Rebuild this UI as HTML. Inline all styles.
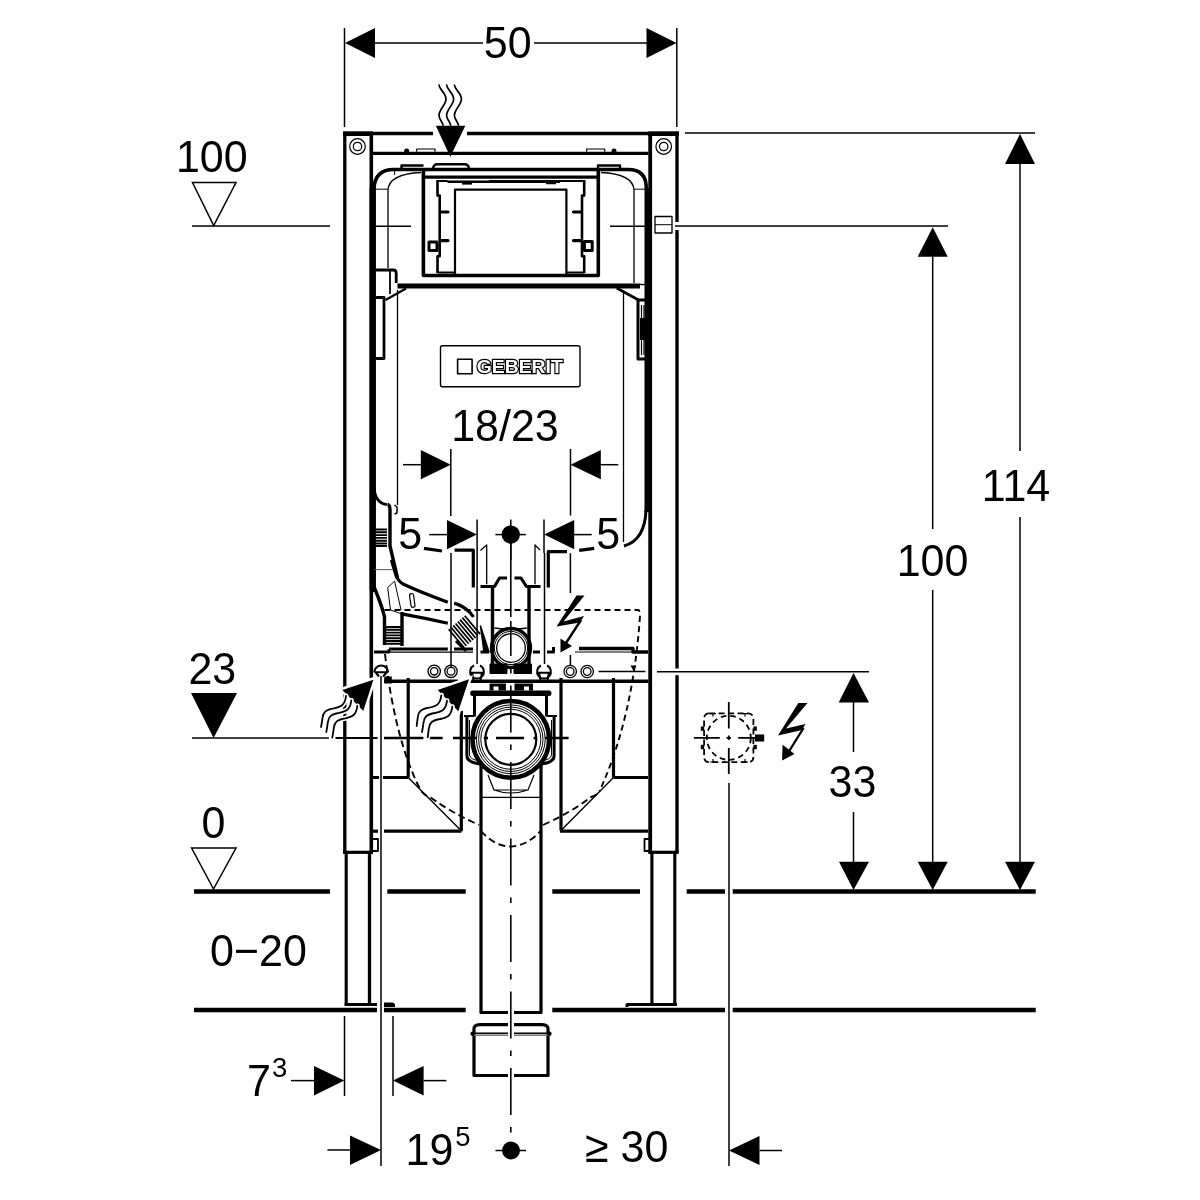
<!DOCTYPE html>
<html><head><meta charset="utf-8"><style>
html,body{margin:0;padding:0;background:#fff;}
svg{display:block;will-change:transform;}
text{font-family:"Liberation Sans",sans-serif;fill:#000;}
</style></head><body>
<svg width="1200" height="1200" viewBox="0 0 1200 1200">
<rect width="1200" height="1200" fill="#fff"/>

<g id="frame" stroke="#000" fill="none" stroke-linejoin="round">
  <!-- top bar -->
  <path d="M343.2,133.5 H433 M467,133.5 H678.7" stroke-width="3.6"/>
  <rect x="343.2" y="131.4" width="29.8" height="4.6" fill="#000" stroke="none"/>
  <rect x="648.3" y="131.4" width="30.4" height="4.6" fill="#000" stroke="none"/>
  <!-- left post -->
  <line x1="344.8" y1="131.7" x2="344.8" y2="853.5" stroke-width="3.3"/>
  <line x1="371.3" y1="133.5" x2="371.3" y2="853.5" stroke-width="3.6"/>
  <line x1="343.2" y1="852.3" x2="373" y2="852.3" stroke-width="3.2"/>
  <line x1="346.2" y1="852" x2="346.2" y2="1004" stroke-width="3.1"/>
  <line x1="369.5" y1="852" x2="369.5" y2="1004" stroke-width="3.3"/>
  <path d="M344.5,1004.5 H377" stroke-width="3"/>
  <path d="M384,1002.5 H392 Q395,1002.5 395,1005.5 V1007 H384 Z" fill="#000" stroke="none"/>
  <!-- right post -->
  <line x1="677" y1="131.7" x2="677" y2="222" stroke-width="3.4"/>
  <line x1="677" y1="230" x2="677" y2="668.5" stroke-width="3.4"/>
  <line x1="677" y1="675.2" x2="677" y2="853.5" stroke-width="3.4"/>
  <line x1="650.2" y1="133.5" x2="650.2" y2="853.5" stroke-width="3.8"/>
  <line x1="648.5" y1="852.3" x2="678.5" y2="852.3" stroke-width="3.2"/>
  <line x1="651.9" y1="852" x2="651.9" y2="1004" stroke-width="3.1"/>
  <line x1="674.8" y1="852" x2="674.8" y2="1004" stroke-width="3.1"/>
  <path d="M627,1007 V1004.5 H677" stroke-width="3"/>
  <!-- rail -->
  <line x1="373" y1="153.3" x2="648.5" y2="153.3" stroke-width="3.3"/>
  <!-- circles -->
  <g stroke-width="1.2">
    <circle cx="357.5" cy="146.5" r="7.8"/><circle cx="357.5" cy="146.5" r="4.2"/>
    <circle cx="663.7" cy="146.5" r="7.8"/><circle cx="663.7" cy="146.5" r="4.2"/>
  </g>
  <!-- small rail items -->
  <path d="M416.7,151.7 V149 H435 V151.7" stroke-width="1.2"/>
  <path d="M586.7,151.7 V149 H604.7 V151.7" stroke-width="1.2"/>
  <circle cx="406.7" cy="151" r="2.5" fill="#000" stroke="none"/>
  <circle cx="614" cy="151" r="2.5" fill="#000" stroke="none"/>
  <!-- bottom cross bars of posts -->
  <line x1="384" y1="831.2" x2="461.5" y2="831.2" stroke-width="3.2"/>
  <line x1="560" y1="831.2" x2="648.2" y2="831.2" stroke-width="3.2"/>
  <line x1="372" y1="831.2" x2="378" y2="831.2" stroke-width="3.2"/>
  <path d="M373,839 H378 V851 H373" stroke-width="1.8"/>
  <path d="M650,839 H644.5 V851 H650" stroke-width="1.8"/>
</g>

<g id="cistern" stroke="#000" fill="none" stroke-linejoin="round" stroke-linecap="butt">
  <!-- outer cistern wall -->
  <path d="M374,592 V189 Q374.5,169.5 394,169.5 H628 Q646.3,169.5 646.3,188 V512" stroke-width="3.6"/>
  <rect x="645" y="188" width="6.5" height="324" fill="#000" stroke="none"/>
  <rect x="369.6" y="188" width="6.2" height="402" fill="#000" stroke="none"/>
  <path d="M374.5,490 Q376,503.5 387,504.5" stroke-width="2.6"/>
  <path d="M646,510 Q645,540 624,546" stroke-width="3"/>
  <!-- inner thin contour -->
  <path d="M421,172.5 Q389,174 388,190 V268" stroke-width="1.3"/>
  <path d="M376,189.2 H388" stroke-width="1"/>
  <path d="M394.6,169 V175" stroke-width="1"/>
  <path d="M601,172.5 Q633,174 634,190 V283" stroke-width="1.3"/>
  <path d="M634,189.2 H645" stroke-width="1"/>
  <path d="M397.5,290 V505" stroke-width="1.3"/>
  <path d="M623.5,290 V542" stroke-width="1.3"/>
  <!-- top tabs -->
  <path d="M401.5,169 V165.5 H423.5" stroke-width="2.4"/>
  <path d="M433,168 Q434,164.3 437,164.3 H465 Q468,164.3 469,168" stroke-width="2.4"/>
  <path d="M598,169 V165.5 H620 V169" stroke-width="2.4"/>
  <!-- flush box -->
  <path d="M423.4,168 V275.5 H598.3 V168" stroke-width="3.6"/>
  <line x1="423.4" y1="177.2" x2="598.3" y2="177.2" stroke-width="3.3"/>
  <!-- notched frames -->
  <path d="M437.5,180 V195.6 H439.7 V256.3 H437.5 V273" stroke-width="2.6"/>
  <path d="M584.2,180 V195.6 H582 V256.3 H584.2 V273" stroke-width="2.6"/>
  <path d="M441,212 H448 M441,240.6 H448" stroke-width="3.2" stroke-linecap="round"/>
  <path d="M573.5,212 H580.7 M573.5,240.6 H580.7" stroke-width="3.2" stroke-linecap="round"/>
  <rect x="429" y="242" width="8" height="8.5" stroke-width="3"/>
  <rect x="584.4" y="241.6" width="7.8" height="8.8" stroke-width="3"/>
  <path d="M437.5,181 H584.2" stroke-width="2"/>
  <path d="M437.5,272.5 H455 M566.4,272.5 H584.2" stroke-width="2"/>
  <!-- inner white rect -->
  <path d="M455,275 V189.6 H566.4 V275" stroke-width="2.2"/>
  <path d="M447.5,180.5 H489" stroke-width="1" stroke="#777"/>
  <path d="M447.5,182.5 H560" stroke-width="1.2"/>
  <path d="M462,183.5 H472" stroke-width="2.2"/>
  <path d="M533,181 H575 M546,183.5 H556" stroke-width="1.3"/>
  <!-- level marks inside cistern at y=226 -->
  <path d="M376,226.2 H411" stroke-width="1.5"/>
  <path d="M610,226.2 H645" stroke-width="1.5"/>
  <!-- small box on right post -->
  <rect x="655" y="216.5" width="17" height="16.5" stroke-width="1.3"/>
  <path d="M655,224.7 H672" stroke-width="1"/>
  <!-- brackets below flush box -->
  <path d="M376,270 H393 Q396.2,270 396.2,273 V283" stroke-width="2.8"/>
  <path d="M390,271 V294" stroke-width="1.8"/>
  <path d="M397.5,286 H640" stroke-width="5"/>
  <path d="M639,284.5 H645" stroke-width="1.3"/>
  <path d="M385.5,300 L406,288.5" stroke-width="2.2"/>
  <path d="M376,297.5 H384 V358.5 H376" stroke-width="2.8"/>
  <path d="M616.7,288 L638.5,300" stroke-width="2.6"/>
  <path d="M645.5,300 H638 V359 H645.5" stroke-width="3"/>
  <path d="M641.5,305 V355 M644,305 V355" stroke-width="1.2"/>
  <rect x="640" y="318" width="6" height="22" fill="#000" stroke="none"/>
  <!-- GEBERIT label -->
  <rect x="440.5" y="345.8" width="139.5" height="40.9" rx="2" stroke-width="1.4"/>
  <rect x="457.6" y="359.2" width="14.5" height="14.6" stroke-width="1.6"/>
</g>
<text transform="matrix(1,0,0,1.035,0,-13.05)" x="476.8" y="372.6" font-size="18.6" font-weight="bold" textLength="86" lengthAdjust="spacingAndGlyphs" style="font-family:'Liberation Sans',sans-serif;fill:#fff;stroke:#000;stroke-width:2.3px;paint-order:stroke">GEBERIT</text>

<g id="waves" stroke="#000" stroke-width="1.7" fill="none" stroke-linecap="round">
  <path id="wv" d="M439,85 C439.5,90 446,93 446,99 C446,105 439,109 439,115.5 C439,119 442,121 443,125"/>
  <path d="M446.6,85 C447.1,90 453.6,93 453.6,99 C453.6,105 446.6,109 446.6,115.5 C446.6,119 449.6,121 450.6,125"/>
  <path d="M454.4,85 C454.9,90 461.4,93 461.4,99 C461.4,105 454.4,109 454.4,115.5 C454.4,119 457.4,121 458.4,125"/>
</g>

<g id="lower" stroke="#000" fill="none" stroke-linejoin="round">
  <!-- cistern lower-left wall + flush pipe -->
  <path d="M387.5,504.5 Q390,505 390,510 V546 L397.5,578" stroke-width="3.4"/>
  <path d="M394.5,505 L397,507 V513 L394.5,514" stroke-width="1.5"/>
  <path d="M391.4,560 L395.5,573.8 Q397,580 403,584 Q420,592 447.8,602.2" stroke-width="3.2"/>
  <path d="M454.2,603.1 Q467,607 473.5,617" stroke-width="3.2"/>
  <path d="M402.9,614.1 Q425,618 447.8,623.3" stroke-width="3.2"/>
  <path d="M374.5,588 Q382,606 384.5,617 V645" stroke-width="3.4"/>
  <path d="M402,612 V646" stroke-width="3.4"/>
  <path d="M374,569.6 H392.8" stroke-width="1" stroke="#555"/>
  <path d="M387.7,587.5 L394.6,581.1 M387.7,587.5 L390.5,610 L402,614 M394.6,581.1 L401,610" stroke-width="1"/>
  <rect x="410.2" y="593.5" width="4" height="14" rx="2" stroke-width="1.2" transform="rotate(-8 412 600)"/>
  <!-- threads left -->
  <path d="M385,627 H402 M385,629.8 H402 M385,632.6 H402 M385,635.4 H402 M385,638.2 H402 M385,641 H402 M385,643.8 H402" stroke-width="1.9"/>
  <path d="M376,529.5 H387 M376,532.3 H387 M376,535.1 H387 M376,537.9 H387 M376,540.7 H387 M376,543.5 H387 M376,546 H387" stroke-width="1.9"/>
  <!-- threads right angled -->
  <g transform="rotate(-40 464 632)">
    <path d="M454,620 V644 M457,620 V644 M460,620 V644 M463,620 V644 M466,620 V644 M469,620 V644 M472,620 V644 M475,620 V644" stroke-width="1.7"/>
  </g>
  <path d="M456,641 L466,651" stroke-width="3"/>
  <!-- rail 1 -->
  <path d="M389,649 H447.8 M454,649 H473" stroke-width="3"/>
  <path d="M389,652.2 H473" stroke-width="1.2"/>
  <path d="M374,652 H389 V649" stroke-width="2.8"/>
  <path d="M480.5,652 H489 M533,652 H540 M547,652 H553.5 V647" stroke-width="3"/>
  <path d="M579,648.5 H633 V652 H648" stroke-width="3.4"/>
  <path d="M575,652 H633" stroke-width="1.2"/>
  <!-- wedge -->
  <path d="M480.5,626 L489,652 L484,652 Z" fill="#000" stroke-width="1.5"/>
  <!-- dashed bowl top line -->
  <path d="M384.5,610 H638 Q640,610 640,616 Q633,718 600,790" stroke-width="1.9" stroke-dasharray="6,4"/>
  <!-- dashed thick curve (5 dims) -->
  <path d="M424,548.3 L442,551" stroke-width="3.2"/>
  <path d="M454.6,550.2 H473.3 V587.5" stroke-width="3.2"/>
  <path d="M567,551.7 H548.3 V587.5" stroke-width="3.2"/>
  <path d="M579.2,550.4 L594.2,548.3" stroke-width="3.2"/>
  <!-- thin "1" lines -->
  <path d="M480.4,550.4 L486.7,545 V584.2" stroke-width="1.3"/>
  <path d="M540,550 L535,545 V584.2" stroke-width="1.3"/>
  <!-- flush connector -->
  <path d="M480.5,586.5 H494.5 L499.5,578 H507 M514.5,578 H521 L526.5,586.5 H540.5" stroke-width="3.2"/>
  <path d="M492.5,586.5 V665 M529,586.5 V665" stroke-width="3.4"/>
  <path d="M490,664 H507 V673.5 H490 Z M514,664 H531.5 V673.5 H514 Z" fill="#000" stroke-width="1"/>
  <!-- ring at 648 -->
  <circle cx="511" cy="648" r="19.5" stroke-width="3.4"/>
  <circle cx="511" cy="648" r="16.6" stroke-width="1"/>
  <circle cx="511" cy="648" r="14.3" stroke-width="1.3"/>
  <path d="M494.5,628 Q500,629 507,629 M514.5,629 Q521,629 527,628" stroke-width="1.5"/>
  <!-- lightning -->
  <polygon points="576.5,595.5 584.5,595.5 563.5,621.5 584,616 580,622.5 556.5,626.5" fill="#000" stroke="none"/>
  <path d="M581,620 L566,643" stroke-width="2.4"/>
  <polygon points="560.5,638.5 572,646 560.5,652.5" fill="#000" stroke="none"/>
  <!-- circles row -->
  <g stroke-width="1.3">
    <circle cx="434.2" cy="671.3" r="6.2"/><circle cx="434.2" cy="671.3" r="3.7"/>
    <circle cx="451" cy="671.3" r="6.2"/><circle cx="451" cy="671.3" r="3.9"/>
    <circle cx="570.2" cy="671.5" r="6.2"/><circle cx="570.2" cy="671.5" r="3.8"/>
    <circle cx="587.2" cy="671.5" r="6.2"/><circle cx="587.2" cy="671.5" r="3.8"/>
  </g>
  <path d="M451,553 V667.4" stroke-width="1.5"/>
  <path d="M570.4,553.3 V593 M570.4,655 V665.5" stroke-width="1.5"/>
  <path d="M477.1,553 V664" stroke-width="1.5"/>
  <path d="M544.5,553 V664" stroke-width="1.5"/>
  <!-- domes -->
  <g stroke-width="2">
    <path d="M541,665.5 A6.9,6.9 0 1 0 547,665.5"/>
    <path d="M537.5,672.8 H550.5 M539,673 L540.5,680 M549,673 L547.5,680"/>
    <path d="M474,665.5 A6.9,6.9 0 1 0 480,665.5"/>
    <path d="M470.5,672.8 H483.5 M472,673 L473.5,680 M482,673 L480.5,680"/>
    <path d="M374.3,672.3 A6.9,6.9 0 0 1 388.1,672.3"/>
    <path d="M374.3,672.3 H388.1 M376,673 L379,676.5 M386.3,673 L383,676.5"/>
  </g>
  <rect x="384.3" y="676.5" width="7.5" height="7" fill="#000" stroke="none"/>
  <path d="M598.5,671.5 H645.5" stroke-width="1.5"/>
  <polygon points="630.5,665.5 636.5,665.5 633.5,671" fill="#000" stroke="none"/>
  <!-- rail 2 -->
  <path d="M384,681.2 H458 M466,681.2 H648.5" stroke-width="3.4"/>
  <path d="M408.2,678 V777.5 M561,678 V830.5 M613.5,678 V777.5" stroke-width="3.2"/>
  <!-- outlet housing -->
  <path d="M489.6,683.5 H505.9 V690.5 H498.5 V686.5 H493.5 V690.5 H489.6 Z M514.5,683.5 H533 V690.5 H529 V686.5 H524 V690.5 H514.5 Z" fill="#000" stroke="none"/>
  <rect x="470.2" y="690.5" width="81.2" height="5.5" rx="2.5" fill="#000" stroke="none"/>
  <path d="M474.5,696 V716.6 M546.5,696 V716.6" stroke-width="3"/>
  <path d="M466.9,716 V756 Q467,762.5 481,764" stroke-width="3"/>
  <path d="M554.1,716 V756 Q554,762.5 541,764" stroke-width="3"/>
  <path d="M469.5,720 V755 Q470,759.5 480,761 M551.5,720 V755 Q551,759.5 541,761" stroke-width="1"/>
  <path d="M464,716 H474.5 M546.5,716 H557" stroke-width="2"/>
  <circle cx="510.8" cy="739.3" r="38.3" stroke-width="4.6"/>
  <circle cx="510.8" cy="739.3" r="34.4" stroke-width="1"/>
  <circle cx="510.8" cy="739.3" r="32.2" stroke-width="1"/>
  <circle cx="510.8" cy="739.3" r="30" stroke-width="1"/>
  <circle cx="510.8" cy="739.3" r="25.5" stroke-width="2.2"/>
  <!-- outlet pipe -->
  <path d="M481,764 V1012.5 H541 V764" stroke-width="3.2"/>
  <path d="M481,797.3 H541" stroke-width="1.3"/>
  <path d="M488,775 L494,790 H528 L534,775 M494,790 Q511,796 528,790" stroke-width="1.2"/>
  <!-- pipe cap -->
  <path d="M474,1075.5 V1030 Q473.4,1024.8 480,1024.6 H542 Q548.6,1024.8 548,1030 V1075.5 Z" stroke-width="3.2"/>
  <path d="M472,1033.2 H550" stroke-width="1.4"/>
  <path d="M473,1035.3 H549" stroke-width="1.4" stroke="#777"/>
  <circle cx="472.6" cy="1033.8" r="2.2" fill="#000" stroke="none"/>
  <circle cx="549.4" cy="1033.8" r="2.2" fill="#000" stroke="none"/>
  <!-- lower brackets -->
  <path d="M373,777.5 H379 M383,777.5 H408.2 M461.3,711 V831.2" stroke-width="3.2"/>
  <path d="M408.2,777.5 L461,830.6" stroke-width="1.4"/>
  <path d="M648,777.5 H613.5" stroke-width="3.2"/>
  <path d="M613.5,777.5 L561,830.6" stroke-width="1.4"/>
  <!-- dashed bowl -->
  <path d="M385,654 Q395,740 420,789 Q423,795 430,797 Q452,813 479,825" stroke-width="1.9" stroke-dasharray="7,4"/>
  <path d="M481,831 Q494,846 510.5,846.5 Q527,846 540.5,831" stroke-width="1.9" stroke-dasharray="7,4"/>
  <path d="M543,825 Q570,813 591,797 Q598,795 600,790" stroke-width="1.9" stroke-dasharray="7,4"/>
</g>
<path d="M511,1009.5 V1015.5 M511,1021.5 V1037 M511,1072.5 V1078.5" stroke="#fff" stroke-width="6"/>
<g id="centerlines" stroke="#000" fill="none">
  <path d="M510.8,543 V617" stroke-width="1.6"/>
  <path d="M510.8,621 V1145" stroke-width="1.6" stroke-dasharray="47,12,5.5,12" stroke-dashoffset="12"/>
  <path d="M384,738 H423.4 M429.5,738 H442.6 M453,738 H476.8 M483.8,738 H488 M496,738 H524 M533.6,738 H537 M545,738 H568.6" stroke-width="2.3"/>
</g>

<g id="socket" stroke="#000" fill="none">
  <rect x="704.1" y="713.4" width="49.3" height="48.8" rx="5" stroke-width="1.8" stroke-dasharray="6,3.5"/>
  <circle cx="728.8" cy="737.8" r="22" stroke-width="1.8" stroke-dasharray="5.5,4"/>
  <path d="M693.8,737.8 H719.8 M738.2,737.8 H755 M728.8,702 V728.6 M728.8,748 V774 M726.5,737.8 H731 M728.8,735.6 V740" stroke-width="1.8"/>
  <path d="M710,713.6 h6 M713,713.6 v3 M742,713.6 h6 M745,713.6 v3 M710,762 h6 M713,762 v-3 M742,762 h6 M745,762 v-3" stroke-width="1.2"/>
  <g fill="#000" stroke="none">
    <rect x="700.8" y="726.4" width="3.4" height="4.4"/>
    <rect x="700.8" y="744.8" width="3.4" height="4.4"/>
    <rect x="753.4" y="726.4" width="3.4" height="4.4"/>
    <rect x="753.4" y="744.8" width="3.4" height="4.4"/>
    <rect x="755" y="734.5" width="9.2" height="7"/>
    <polygon points="798.3,703 807.5,703 786,728.5 805.5,724 802,730 778,735.5"/>
    <polygon points="782.6,744.8 794.5,754 782.1,760.5"/>
  </g>
  <path d="M803.5,728 L788,753" stroke-width="2.3"/>
</g>
<g id="dims" stroke="#000" stroke-width="1.5" fill="none">
  <!-- 50 -->
  <line x1="344.5" y1="28" x2="344.5" y2="127"/>
  <line x1="676.8" y1="28" x2="676.8" y2="127"/>
  <line x1="375" y1="43" x2="483" y2="43"/>
  <line x1="534" y1="43" x2="647" y2="43"/>
  <!-- 100 left level -->
  <polygon points="192.5,182.5 236,182.5 213.7,225.5"/>
  <line x1="192" y1="226" x2="330" y2="226"/>
  <!-- 114 -->
  <line x1="685" y1="133" x2="1035" y2="133"/>
  <line x1="1020" y1="164" x2="1020" y2="451"/>
  <line x1="1020" y1="517" x2="1020" y2="862"/>
  <!-- 100 right -->
  <line x1="675" y1="226" x2="948" y2="226"/>
  <line x1="932.7" y1="256" x2="932.7" y2="529"/>
  <line x1="932.7" y1="590" x2="932.7" y2="862"/>
  <!-- 33 -->
  <line x1="657" y1="671.8" x2="869" y2="671.8"/>
  <line x1="853.5" y1="702" x2="853.5" y2="752"/>
  <line x1="853.5" y1="812" x2="853.5" y2="862"/>
  <!-- 23 level -->
  <line x1="192" y1="738" x2="329" y2="738"/>
  <line x1="335.5" y1="738" x2="377.5" y2="738" stroke-width="2"/>
  <!-- 0 level -->
  <polygon points="191.6,848 236,848 213.5,889"/>
  <!-- 7^3 -->
  <line x1="344.5" y1="1016" x2="344.5" y2="1096"/>
  <line x1="393" y1="1016" x2="393" y2="1096"/>
  <line x1="291" y1="1080.6" x2="314" y2="1080.6"/>
  <line x1="423.6" y1="1080.6" x2="446.4" y2="1080.6"/>
  <!-- 19^5 -->
  <line x1="381" y1="676" x2="381" y2="1166"/>
  <line x1="327.4" y1="1150" x2="350" y2="1150"/>
  <!-- >=30 -->
  <line x1="729" y1="783" x2="729" y2="1166"/>
  <line x1="759.5" y1="1150.5" x2="782" y2="1150.5"/>
</g>
<g id="arrows" fill="#000" stroke="none">
  <polygon points="345,43 375,28 375,58"/>
  <polygon points="676.5,43 646.5,28 646.5,58"/>
  <polygon points="450.3,156.7 435.8,125.8 465.3,125.8"/>
  <polygon points="1020,134 1005,164 1035,164"/>
  <polygon points="1020,890 1005,861.7 1035,861.7"/>
  <polygon points="932.7,227.3 917.7,256.7 947.7,256.7"/>
  <polygon points="932.7,890 917.7,861.7 947.7,861.7"/>
  <polygon points="853.5,673 838.7,702.5 869,702.5"/>
  <polygon points="853.5,890 839,861.7 869,861.7"/>
  <polygon points="191,693 237,693 213.6,738"/>
  <polygon points="344.3,1080.6 314,1066 314,1095.6"/>
  <polygon points="393,1080.6 423.6,1066 423.6,1095.6"/>
  <polygon points="381,1150 350,1135.6 350,1165"/>
  <polygon points="729,1150.5 759.5,1136 759.5,1165"/>
  <circle cx="511" cy="1150.5" r="9"/>
</g>
<g id="floors" stroke="#000" stroke-width="4.5" fill="none">
  <line x1="194" y1="891.6" x2="330" y2="891.6"/>
  <line x1="387.3" y1="891.6" x2="465.7" y2="891.6"/>
  <line x1="552.3" y1="891.6" x2="640" y2="891.6"/>
  <line x1="686.7" y1="891.6" x2="725" y2="891.6"/>
  <line x1="732.7" y1="891.6" x2="1035.7" y2="891.6"/>
  <line x1="194" y1="1010" x2="377" y2="1010"/>
  <line x1="384" y1="1010" x2="465.7" y2="1010"/>
  <line x1="552.3" y1="1010" x2="725" y2="1010"/>
  <line x1="732.7" y1="1010" x2="1035.7" y2="1010"/>
</g>

<g id="dims2" stroke="#000" stroke-width="1.5" fill="none">
  <line x1="450.8" y1="449" x2="450.8" y2="516"/>
  <line x1="570.5" y1="449" x2="570.5" y2="515.5"/>
  <line x1="403" y1="464.7" x2="421" y2="464.7"/>
  <line x1="600.5" y1="464.7" x2="618.3" y2="464.7"/>
  <line x1="477.1" y1="519.6" x2="477.1" y2="553"/>
  <line x1="544" y1="519.6" x2="544" y2="553"/>
  <line x1="429.2" y1="534.6" x2="447.5" y2="534.6"/>
  <line x1="574" y1="534.6" x2="591.7" y2="534.6"/>
  <line x1="495.4" y1="534.6" x2="525.8" y2="534.6"/>
  <line x1="510.8" y1="519.6" x2="510.8" y2="560"/>
  <line x1="495.5" y1="1150.5" x2="526" y2="1150.5"/>
</g>
<g fill="#000" stroke="none">
  <polygon points="450.8,464.7 420.8,450 420.8,479.3"/>
  <polygon points="570.5,464.7 600.8,450 600.8,479.3"/>
  <polygon points="476.8,534.6 447,520 447,549.2"/>
  <polygon points="544.2,534.6 574.2,520 574.2,549.2"/>
  <circle cx="510.8" cy="534.6" r="9.2"/>
  <polygon points="342.3,689.9 373.4,679.75 363.3,710.9" stroke="#fff" stroke-width="5" paint-order="stroke"/>
  <polygon points="437.7,690 469,679.3 458.3,711.3" stroke="#fff" stroke-width="5" paint-order="stroke"/>
</g>
<g stroke="#fff" stroke-width="5" fill="none" stroke-linecap="round">
  <path d="M346,696 C345,705 341,707 334,708.3 C326,709.5 323,712 322.5,718 C322,722 321.5,725 321,727"/>
  <path d="M351.3,700.5 C350.3,709.5 346.3,711.5 339.3,712.8 C331.3,714 328.3,716.5 327.8,722.5 C327.3,726.5 326.8,729.5 326.3,732"/>
  <path d="M357.3,706 C356.3,715 352.3,717 345.3,718.3 C337.3,719.5 334.3,722 333.8,728 C333.3,732 332.8,735 332.3,737.5"/>
  <path d="M441.3,695.3 C440.3,704.3 436.3,706.3 429.3,707.6 C421.3,708.8 418.3,711.3 417.8,717.3 C417.3,721.3 416.8,724.3 416.7,726"/>
  <path d="M447,700.7 C446,709.7 442,711.7 435,713 C427,714.2 424,716.7 423.5,722.7 C423,726.7 422.5,729.7 422,732"/>
  <path d="M452.3,706.7 C451.3,715.7 447.3,717.7 440.3,719 C432.3,720.2 429.3,722.7 428.8,728.7 C428.3,732.7 427.8,735.7 427.7,737.3"/>
</g>
<g stroke="#000" stroke-width="1.8" fill="none" stroke-linecap="round">
  <path d="M346,696 C345,705 341,707 334,708.3 C326,709.5 323,712 322.5,718 C322,722 321.5,725 321,727"/>
  <path d="M351.3,700.5 C350.3,709.5 346.3,711.5 339.3,712.8 C331.3,714 328.3,716.5 327.8,722.5 C327.3,726.5 326.8,729.5 326.3,732"/>
  <path d="M357.3,706 C356.3,715 352.3,717 345.3,718.3 C337.3,719.5 334.3,722 333.8,728 C333.3,732 332.8,735 332.3,737.5"/>
  <path d="M441.3,695.3 C440.3,704.3 436.3,706.3 429.3,707.6 C421.3,708.8 418.3,711.3 417.8,717.3 C417.3,721.3 416.8,724.3 416.7,726"/>
  <path d="M447,700.7 C446,709.7 442,711.7 435,713 C427,714.2 424,716.7 423.5,722.7 C423,726.7 422.5,729.7 422,732"/>
  <path d="M452.3,706.7 C451.3,715.7 447.3,717.7 440.3,719 C432.3,720.2 429.3,722.7 428.8,728.7 C428.3,732.7 427.8,735.7 427.7,737.3"/>
</g>
<g id="texts2" font-size="43">
  <text transform="matrix(1,0,0,1.035,0,-19.23)" x="410.2" y="549" text-anchor="middle">5</text>
  <text transform="matrix(1,0,0,1.035,0,-19.23)" x="608.3" y="549" text-anchor="middle">5</text>
</g>
<g id="texts" font-size="43">
  <text transform="matrix(1,0,0,1.035,0,-2.04)" x="507.7" y="58" text-anchor="middle">50</text>
  <text transform="matrix(1,0,0,1.035,0,-6.03)" x="211.8" y="172" text-anchor="middle">100</text>
  <text transform="matrix(1,0,0,1.035,0,-17.56)" x="1016" y="501.5" text-anchor="middle">114</text>
  <text transform="matrix(1,0,0,1.035,0,-20.17)" x="932.5" y="576" text-anchor="middle">100</text>
  <text transform="matrix(1,0,0,1.035,0,-15.45)" x="505" y="441" text-anchor="middle">18/23</text>
  <text transform="matrix(1,0,0,1.035,0,-23.94)" x="212.3" y="683.6" text-anchor="middle">23</text>
  <text transform="matrix(1,0,0,1.035,0,-27.92)" x="852.5" y="797.3" text-anchor="middle">33</text>
  <text transform="matrix(1,0,0,1.035,0,-29.34)" x="213.5" y="838" text-anchor="middle">0</text>
  <text transform="matrix(1,0,0,1.035,0,-33.82)" x="258.4" y="966" text-anchor="middle">0−20</text>
  <text transform="matrix(1,0,0,1.035,0,-38.37)" x="247" y="1096">7</text>
  <text transform="matrix(1,0,0,1.035,0,-37.71)" x="272" y="1077" font-size="27.5">3</text>
  <text transform="matrix(1,0,0,1.035,0,-40.79)" x="405.6" y="1165">19</text>
  <text transform="matrix(1,0,0,1.035,0,-40.12)" x="455.3" y="1146" font-size="27.5">5</text>
  <text transform="matrix(1,0,0,1.035,0,-40.68)" x="585" y="1162">≥ 30</text>
</g>
</svg>
</body></html>
